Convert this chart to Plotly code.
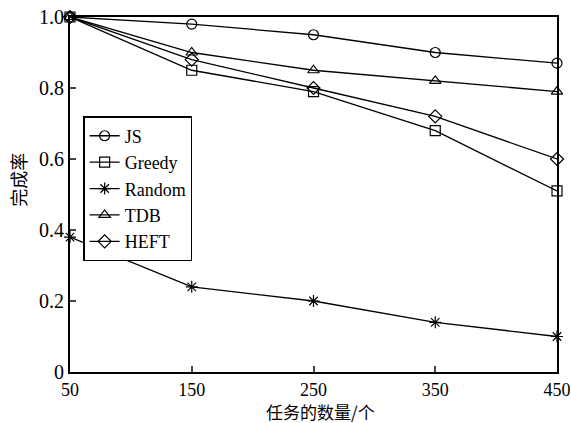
import plotly.graph_objects as go

tasks = [50, 150, 250, 350, 450]
js = [1.0, 0.98, 0.95, 0.90, 0.87]
greedy = [1.0, 0.85, 0.79, 0.68, 0.51]
random_ = [0.38, 0.24, 0.20, 0.14, 0.10]
tdb = [1.0, 0.90, 0.85, 0.82, 0.79]
heft = [1.0, 0.88, 0.80, 0.72, 0.60]

series = [
    ("JS", js, "circle-open"),
    ("Greedy", greedy, "square-open"),
    ("Random", random_, "asterisk-open"),
    ("TDB", tdb, "triangle-up-open"),
    ("HEFT", heft, "diamond-open"),
]

y_ticks = [0, 0.2, 0.4, 0.6, 0.8, 1.0]
y_ticktext = ["0", "0.2", "0.4", "0.6", "0.8", "1.0"]
x_title = "任务的数量/个"
y_title = "完成率"

fig = go.Figure()
for name, vals, sym in series:
    fig.add_trace(go.Scatter(
        x=tasks, y=vals, name=name, mode="lines+markers",
        line=dict(color="black", width=1.3),
        marker=dict(symbol=sym, size=10, color="black", line=dict(color="black", width=1.2)),
        cliponaxis=False,
    ))

serif = "Liberation Serif"
cjk = "Noto Sans CJK SC"
fig.update_layout(
    width=571, height=423,
    margin=dict(l=70, r=14, t=17, b=51, autoexpand=False),
    plot_bgcolor="white", paper_bgcolor="white",
    showlegend=True,
    legend=dict(
        x=0.027, y=0.721, xanchor="left", yanchor="top",
        bordercolor="black", borderwidth=1.5, bgcolor="white",
        font=dict(family=serif, size=18, color="black"),
        tracegroupgap=0, itemwidth=30,
    ),
    font=dict(family=serif, size=17, color="black"),
    annotations=[
        dict(
            text=x_title, xref="paper", yref="paper", x=0.515, y=-0.11,
            xanchor="center", yanchor="middle", showarrow=False, borderpad=0,
            font=dict(family=cjk, size=17, color="black"),
        ),
        dict(
            text=y_title, xref="paper", yref="paper", x=-0.107, y=0.541,
            xanchor="center", yanchor="middle", showarrow=False, textangle=-90, borderpad=0,
            font=dict(family=cjk, size=18, color="black"),
        ),
    ],
)
fig.update_xaxes(
    range=[50, 450], tickvals=tasks, ticks="inside", ticklen=6, tickwidth=1.5,
    showline=True, linecolor="black", linewidth=2, mirror=True, showgrid=False, zeroline=False,
    automargin=False, ticklabeloverflow="allow",
    tickfont=dict(family=serif, size=18, color="black"),
)
fig.update_yaxes(
    range=[0, 1], tickvals=y_ticks, ticktext=y_ticktext, ticks="inside", ticklen=6, tickwidth=1.5,
    showline=True, linecolor="black", linewidth=2, mirror=True, showgrid=False, zeroline=False,
    automargin=False, ticklabeloverflow="allow",
    tickfont=dict(family=serif, size=20, color="black"),
)
fig.write_html("out.html")
